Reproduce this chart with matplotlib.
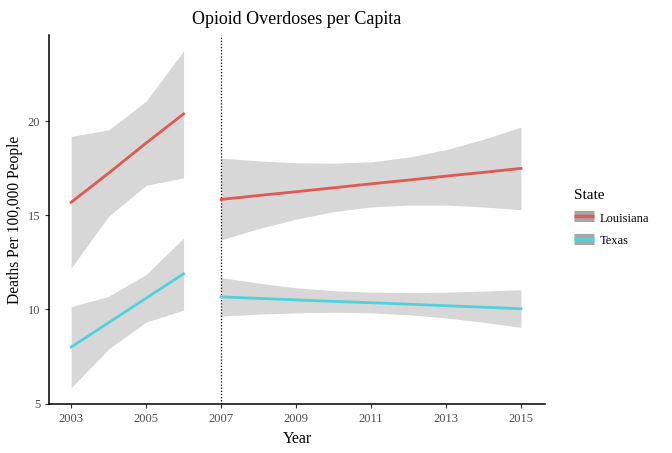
import numpy as np
import matplotlib.pyplot as plt
from matplotlib.lines import Line2D

plt.rcParams['font.family'] = ['Liberation Serif', 'DejaVu Serif']

years_pre = [2003, 2004, 2005, 2006]
years_post = [2007, 2008, 2009, 2010, 2011, 2012, 2013, 2014, 2015]

la_pre = [15.7, 17.25, 18.85, 20.4]
la_pre_hi = [19.2, 19.55, 21.08, 23.75]
la_pre_lo = [12.2, 14.96, 16.6, 17.0]
tx_pre = [8.0, 9.3, 10.6, 11.9]
tx_pre_hi = [10.15, 10.7, 11.86, 13.8]
tx_pre_lo = [5.84, 7.9, 9.33, 9.96]

la_post = [15.85, 16.06, 16.26, 16.47, 16.68, 16.88, 17.09, 17.29, 17.5]
la_post_hi = [18.05, 17.9, 17.8, 17.78, 17.85, 18.1, 18.5, 19.05, 19.7]
la_post_lo = [13.7, 14.3, 14.8, 15.2, 15.45, 15.55, 15.55, 15.45, 15.3]
tx_post = [10.67, 10.59, 10.51, 10.43, 10.36, 10.28, 10.2, 10.12, 10.04]
tx_post_hi = [11.7, 11.4, 11.15, 11.0, 10.92, 10.9, 10.92, 10.98, 11.05]
tx_post_lo = [9.65, 9.75, 9.82, 9.85, 9.82, 9.72, 9.55, 9.32, 9.05]

states = ['Louisiana', 'Texas']
colors = ['#df5a52', '#50d2db']
band = '#d7d7d7'

fig = plt.figure(figsize=(6.72, 4.53), dpi=100)
ax = fig.add_axes([0.073, 0.108, 0.738, 0.815])

for yrs, hi, lo in [(years_pre, la_pre_hi, la_pre_lo), (years_pre, tx_pre_hi, tx_pre_lo),
                    (years_post, la_post_hi, la_post_lo), (years_post, tx_post_hi, tx_post_lo)]:
    ax.fill_between(yrs, lo, hi, color=band, lw=0, zorder=1)

ax.plot(years_pre, la_pre, color=colors[0], lw=2, zorder=3)
ax.plot(years_post, la_post, color=colors[0], lw=2, zorder=3)
ax.plot(years_pre, tx_pre, color=colors[1], lw=2, zorder=3)
ax.plot(years_post, tx_post, color=colors[1], lw=2, zorder=3)

ax.axvline(2007, color='black', lw=0.9, ls=(0, (1, 1.5)), zorder=2)

ax.set_xlim(2002.41, 2015.64)
ax.set_ylim(4.97, 24.6)
ax.set_xticks(range(2003, 2016, 2))
ax.set_yticks([5, 10, 15, 20])
for s in ['top', 'right']:
    ax.spines[s].set_visible(False)
for s in ['left', 'bottom']:
    ax.spines[s].set_linewidth(1.1)
ax.tick_params(labelsize=9, colors='#4d4d4d', length=3, width=0.8)
ax.tick_params(color='#333333')

ax.set_title('Opioid Overdoses per Capita', fontsize=13, pad=8)
ax.set_xlabel('Year', fontsize=11.5, labelpad=4)
ax.set_ylabel('Deaths Per 100,000 People', fontsize=11.2, labelpad=3)

handles = [(Line2D([], [], color='#a6a6a6', lw=8, solid_capstyle='butt'),
            Line2D([], [], color=c, lw=2.5, solid_capstyle='butt')) for c in colors]
leg = fig.legend(handles, states, title='State', loc='upper left', bbox_to_anchor=(0.838, 0.607),
                 frameon=False, fontsize=9, title_fontsize=11, handlelength=1.6, handleheight=1.2,
                 labelspacing=0.7, handletextpad=0.4, alignment='left')

fig.savefig('out.png', dpi=100)
